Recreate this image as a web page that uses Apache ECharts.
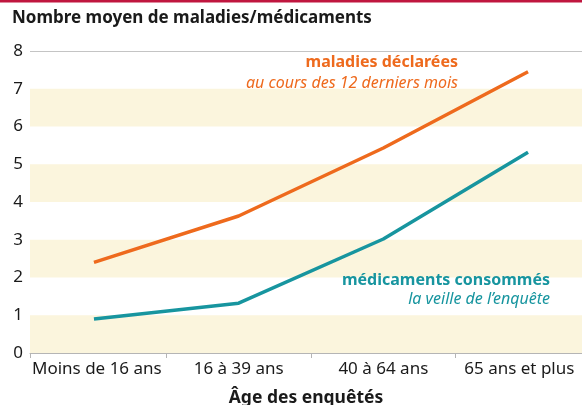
<!DOCTYPE html>
<html>
<head>
    <meta charset="utf-8">
    <title></title>
    <style>
        body{ margin: 0; }
        #chart{ width: 582px; height: 405px; }
    </style>
    <script src="https://cdn.jsdelivr.net/npm/echarts@6/dist/echarts.min.js"></script>
</head>
<body>
<div id="chart"></div>
<script>
    // categories d'age
    var categories = ['Moins de 16 ans', '16 à 39 ans', '40 à 64 ans', '65 ans et plus'];
    // maladies declarees au cours des 12 derniers mois
    var maladies = [2.4, 3.63, 5.43, 7.45];
    // medicaments consommes la veille de l'enquete
    var medicaments = [0.9, 1.32, 3.02, 5.32];
    var yTicks = [0, 1, 2, 3, 4, 5, 6, 7, 8];

    var orange = '#ee6a1d';
    var teal = '#17959f';
    var font = '"Noto Sans", sans-serif';

    function toPairs(arr) {
        var out = [];
        for (var i = 0; i < arr.length; i++) out.push([i, arr[i]]);
        return out;
    }

    var chart = echarts.init(document.getElementById('chart'));
    var option = {
        animation: false,
        textStyle: { fontFamily: font },
        grid: { left: 30, right: 0, top: 51, bottom: 52, outerBoundsMode: 'none' },
        xAxis: {
            type: 'value',
            min: -0.442, max: 3.373,
            splitLine: { show: false },
            axisLine: { show: true, lineStyle: { color: '#b5b5b5', width: 1 } },
            axisTick: { show: true, customValues: [-0.442, 0.5, 1.5, 2.5], length: 5, inside: false, lineStyle: { color: '#b5b5b5' } },
            axisLabel: {
                // le dernier libelle est un peu decale pour rester dans le cadre
                customValues: [0.02, 1, 2, 2.94],
                formatter: function (v) { return categories[Math.round(v)]; },
                color: '#1a1a1a', fontSize: 17, margin: 8
            },
            name: 'Âge des enquêtés',
            nameLocation: 'middle',
            nameGap: 36,
            nameTextStyle: { fontWeight: 'bold', fontSize: 17.5, color: '#1a1a1a' }
        },
        yAxis: {
            type: 'value',
            min: 0, max: 8, interval: 1,
            axisLine: { show: false },
            axisTick: { show: false },
            axisLabel: {
                color: '#1a1a1a', fontSize: 17, margin: 12, align: 'center', padding: [3, 0, 0, 0],
                formatter: function (v) { return yTicks.indexOf(v) >= 0 ? String(v) : ''; }
            },
            splitLine: {
                show: true,
                lineStyle: { color: ['transparent', 'transparent', 'transparent', 'transparent', 'transparent', 'transparent', 'transparent', 'transparent', '#c4c4c4'], width: 1 }
            },
            splitArea: { show: true, areaStyle: { color: ['#fbf5dd', 'rgba(255,255,255,0)'] } }
        },
        series: [
            {
                type: 'line', data: toPairs(maladies), showSymbol: false, symbol: 'none',
                lineStyle: { color: orange, width: 3.5 }, z: 3
            },
            {
                type: 'line', data: toPairs(medicaments), showSymbol: false, symbol: 'none',
                lineStyle: { color: teal, width: 3.5 }, z: 3
            }
        ],
        graphic: [
            { type: 'rect', z: 100, left: 0, top: 0, shape: { width: 582, height: 2.5 }, style: { fill: '#c0163f' } },
            { type: 'text', z: 100, left: 12, top: 10, style: { text: 'Nombre moyen de maladies/médicaments', font: 'bold 17px ' + font, fill: '#1a1a1a' } },
            { type: 'text', z: 100, right: 124, top: 54, style: { text: 'maladies déclarées', font: 'bold 16px ' + font, fill: orange } },
            { type: 'text', z: 100, right: 124, top: 75, style: { text: 'au cours des 12 derniers mois', font: 'italic 16px ' + font, fill: orange } },
            { type: 'text', z: 100, right: 32, top: 272, style: { text: 'médicaments consommés', font: 'bold 16px ' + font, fill: teal } },
            { type: 'text', z: 100, right: 32, top: 291, style: { text: 'la veille de l\u2019enquête', font: 'italic 16px ' + font, fill: teal } }
        ]
    };
    chart.setOption(option);
</script>
</body>
</html>
